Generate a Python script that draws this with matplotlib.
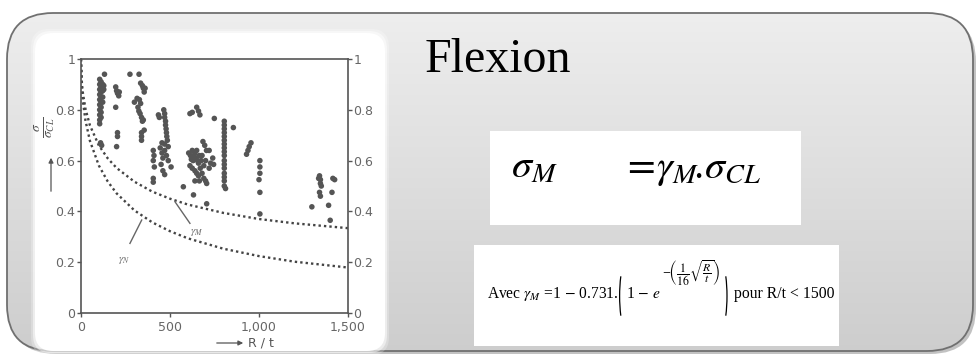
import numpy as np
import matplotlib
matplotlib.use("Agg")
import matplotlib.pyplot as plt
from matplotlib.patches import FancyBboxPatch, Rectangle, Arc
from matplotlib.colors import LinearSegmentedColormap

plt.rcParams['mathtext.fontset'] = 'stix'

# test points: sigma / sigma_CL against R/t
rt_pts = [105, 105, 105, 105, 105, 105, 105, 105, 105, 105,
          113, 113, 113, 113, 113, 113, 113, 113,
          122, 122, 122, 122, 132, 128, 128, 110, 116,
          195, 200, 205, 212, 195, 205, 205, 200, 215,
          275, 326, 335, 345, 350, 355, 360, 300, 320, 325, 332, 340, 345, 350, 335, 315, 328,
          340, 340, 340, 355,
          435, 440, 465, 470, 470, 475, 475, 478, 480, 482, 485, 470, 455,
          406, 410, 406, 412, 406, 406,
          445, 455, 460, 470, 480, 490, 450, 460, 470, 506, 490,
          575,
          612, 625, 650, 660, 668,
          605, 615, 620, 625, 630, 635, 640, 645, 650, 655, 660, 665, 670, 675, 680, 690, 700, 705,
          612, 625, 640, 650, 660, 665, 680, 690, 700, 706,
          640, 632, 706, 685, 695, 720, 720, 728,
          749, 740, 745,
          805, 805, 805, 805, 805, 805, 805, 805, 805, 805, 805, 805, 805, 805, 805, 805, 805, 812,
          856,
          930, 938, 945, 955,
          1005, 1005, 1005, 1000, 1005, 1005,
          1297,
          1340, 1345, 1345, 1350, 1340, 1345, 1335,
          1391, 1400, 1415, 1425, 1410]
sig_pts = [0.92, 0.90, 0.88, 0.86, 0.84, 0.82, 0.80, 0.78, 0.76, 0.745,
           0.91, 0.89, 0.87, 0.85, 0.83, 0.81, 0.79, 0.77,
           0.90, 0.875, 0.85, 0.83, 0.94, 0.895, 0.88, 0.67, 0.66,
           0.89, 0.875, 0.865, 0.855, 0.81, 0.71, 0.695, 0.655, 0.87,
           0.94, 0.94, 0.905, 0.895, 0.885, 0.87, 0.885, 0.83, 0.81, 0.795, 0.785, 0.77, 0.755, 0.76, 0.825, 0.845, 0.84,
           0.71, 0.695, 0.68, 0.72,
           0.78, 0.77, 0.80, 0.785, 0.77, 0.755, 0.74, 0.725, 0.71, 0.695, 0.68, 0.665, 0.67,
           0.64, 0.62, 0.60, 0.575, 0.53, 0.515,
           0.65, 0.63, 0.61, 0.64, 0.62, 0.60, 0.585, 0.56, 0.545, 0.575, 0.655,
           0.497,
           0.785, 0.79, 0.81, 0.795, 0.78,
           0.63, 0.62, 0.605, 0.64, 0.60, 0.62, 0.63, 0.61, 0.64, 0.60, 0.59, 0.62, 0.57, 0.60, 0.62, 0.58, 0.60, 0.64,
           0.58, 0.57, 0.56, 0.55, 0.54, 0.52, 0.55, 0.53, 0.52, 0.51,
           0.52, 0.465, 0.43, 0.675, 0.66, 0.64, 0.57, 0.59,
           0.766, 0.61, 0.585,
           0.755, 0.74, 0.725, 0.71, 0.695, 0.68, 0.665, 0.65, 0.635, 0.62, 0.60, 0.585, 0.57, 0.55, 0.535, 0.52, 0.50, 0.49,
           0.73,
           0.625, 0.64, 0.655, 0.67,
           0.60, 0.575, 0.55, 0.525, 0.475, 0.39,
           0.418,
           0.54, 0.525, 0.51, 0.50, 0.475, 0.46, 0.53,
           0.424, 0.365, 0.53, 0.525, 0.475]

# design curves gamma_M and gamma_N
rt_curve = [0, 5, 10, 25, 50, 100, 150, 200, 300, 400, 500, 600, 800, 1000, 1200, 1500]
gamma_m = [1.0, 0.905, 0.869, 0.804, 0.739, 0.660, 0.609, 0.571, 0.517, 0.478,
           0.450, 0.427, 0.394, 0.370, 0.353, 0.334]
gamma_n = [1.0, 0.882, 0.838, 0.758, 0.678, 0.581, 0.518, 0.471, 0.404, 0.357,
           0.322, 0.294, 0.253, 0.224, 0.202, 0.179]

y_ticks = [0, 0.2, 0.4, 0.6, 0.8, 1]
y_labels = ["0", "0.2", "0.4", "0.6", "0.8", "1"]
x_ticks = [0, 500, 1000, 1500]
x_labels = ["0", "500", "1,000", "1,500"]

W, H = 977, 356
fig = plt.figure(figsize=(W / 100, H / 100), dpi=100)

# slide background in pixel coordinates
bg = fig.add_axes([0, 0, 1, 1])
bg.set_xlim(0, W)
bg.set_ylim(H, 0)
bg.axis("off")

shadow = FancyBboxPatch((10, 16), 966, 338, boxstyle="round,pad=0,rounding_size=46",
                        facecolor="#9a9a9a", edgecolor="none", alpha=0.6)
bg.add_patch(shadow)
frame = FancyBboxPatch((7, 13), 966, 338, boxstyle="round,pad=0,rounding_size=46",
                       facecolor="none", edgecolor="#707070", lw=1.3, zorder=3)
bg.add_patch(frame)
grad = LinearSegmentedColormap.from_list("g", ["#efefef", "#cdcdcd"])
im = bg.imshow(np.linspace(0, 1, 256).reshape(-1, 1), cmap=grad, aspect="auto",
               extent=[0, W, H, 0], zorder=1)
im.set_clip_path(frame)

# white panel behind the chart, with a soft edge
for grow, a in [(4, 0.25), (2, 0.5), (0, 1.0)]:
    bg.add_patch(FancyBboxPatch((35 - grow, 33 - grow), 350 + 2 * grow, 318 + 2 * grow,
                                boxstyle="round,pad=0,rounding_size=18",
                                facecolor="white", edgecolor="none", alpha=a, zorder=4))

# formula boxes
bg.add_patch(Rectangle((490, 131), 311, 94, facecolor="white", edgecolor="none", zorder=4))
bg.add_patch(Rectangle((474, 245), 365, 101, facecolor="white", edgecolor="none", zorder=4))

serif = ["Liberation Serif", "DejaVu Serif"]
bg.text(425, 72, "Flexion", family=serif, fontsize=34.5, va="baseline", ha="left", zorder=5)
bg.text(511, 178, r"$\sigma_M$", fontsize=29, va="baseline", ha="left", zorder=5)
bg.text(622, 178, r"$=\!\gamma_M\!.\!\sigma_{CL}$", fontsize=29, va="baseline", ha="left", zorder=5)

# gamma_M expression, built piece by piece with tall brackets
fig.canvas.draw()
rend = fig.canvas.get_renderer()


def right_of(t):
    bb = t.get_window_extent(rend)
    return bg.transData.inverted().transform((bb.x1, bb.y0))[0]


base = 298
t1 = bg.text(487, base, r"Avec $\gamma_M$ =1$\,-\,$0.731.", family=serif, fontsize=11.2,
             va="baseline", ha="left", zorder=5)
x = right_of(t1) + 2
bg.add_patch(Arc((x + 14, 296), 30, 100, theta1=125, theta2=235, color="black", lw=0.9, zorder=5))
t2 = bg.text(x + 5, base, r"1$\,-\,$$e$", family=serif, fontsize=11.2, va="baseline", ha="left", zorder=5)
x = right_of(t2) + 1
t3 = bg.text(x, 273, r"$-\!\left(\dfrac{1}{16}\sqrt{\dfrac{R}{t}}\right)$", fontsize=8.5,
             va="center", ha="left", zorder=5)
x = right_of(t3) + 1
bg.add_patch(Arc((x - 9, 296), 30, 100, theta1=-55, theta2=55, color="black", lw=0.9, zorder=5))
bg.text(x + 13, base, "pour R/t < 1500", family=serif, fontsize=11.3, va="baseline",
        ha="left", zorder=5)

# axis titles of the chart
bg.text(45, 127, r"$\frac{\sigma}{\sigma_{CL}}$", rotation=90, fontsize=14,
        color="#555555", ha="center", va="center", zorder=5)
bg.annotate("", xy=(51, 155), xytext=(51, 194), zorder=5,
            arrowprops=dict(arrowstyle="-|>", color="#555555", lw=0.9, mutation_scale=7))
bg.annotate("", xy=(246, 343), xytext=(214, 343), zorder=5,
            arrowprops=dict(arrowstyle="-|>", color="#555555", lw=0.9, mutation_scale=7))
bg.text(248, 343, "R / t", fontsize=9, color="#555555", ha="left", va="center", zorder=5)

# chart
ax = fig.add_axes([81 / W, (H - 313) / H, (348 - 81) / W, (313 - 59) / H])
ax.set_facecolor("white")
ax.set_xlim(0, 1500)
ax.set_ylim(0, 1)
ax.plot(rt_curve, gamma_m, linestyle=(0, (1, 1.3)), color="#444444", lw=1.7)
ax.plot(rt_curve, gamma_n, linestyle=(0, (1, 1.3)), color="#444444", lw=1.7)
ax.scatter(rt_pts, sig_pts, s=16, color="#555555", edgecolors="none", zorder=3)

ax.plot([528, 612], [0.438, 0.353], color="#666666", lw=1.0)
ax.plot([341, 275], [0.366, 0.274], color="#666666", lw=1.0)
ax.text(650, 0.315, r"$\gamma_M$", fontsize=8, color="#666666", ha="center", va="center")
ax.text(240, 0.205, r"$\gamma_N$", fontsize=8, color="#666666", ha="center", va="center")

for s in ax.spines.values():
    s.set_color("#555555")
    s.set_linewidth(1.2)
ax.set_xticks(x_ticks)
ax.set_xticklabels(x_labels)
ax.set_yticks(y_ticks)
ax.set_yticklabels(y_labels)
ax.tick_params(axis="both", direction="out", length=3, width=1, color="#555555",
               labelcolor="#666666", labelsize=9, pad=1)
ax.tick_params(axis="x", pad=3)
ax.tick_params(axis="y", right=True, labelright=True)

fig.savefig("out.png", dpi=100)
